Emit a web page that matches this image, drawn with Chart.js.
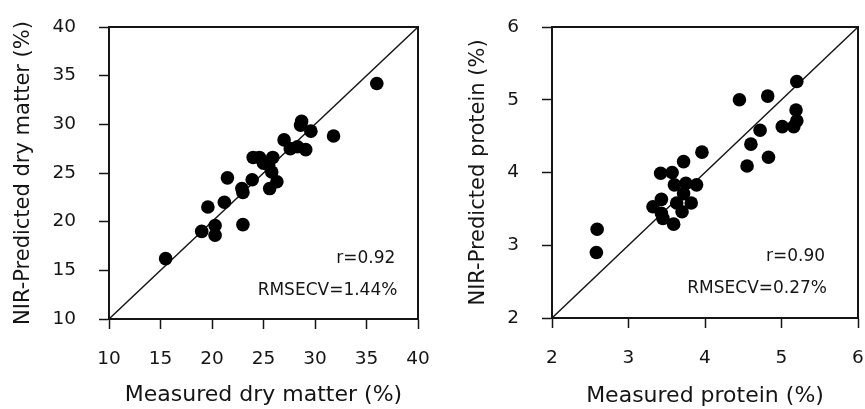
<!DOCTYPE html>
<html>
<head>
<meta charset="utf-8">
<script src="https://cdn.jsdelivr.net/npm/chart.js@4.4.1/dist/chart.umd.min.js"></script>
<style>
  body { margin: 0; background: #fff; }
  #wrap { position: relative; width: 865px; height: 409px; overflow: hidden; }
  canvas { position: absolute; top: 0; }
</style>
</head>
<body>
<div id="wrap">
  <canvas id="dmChart" width="430" height="409" style="left:0"></canvas>
  <canvas id="proteinChart" width="435" height="409" style="left:430px"></canvas>
</div>
<script>
// dry matter (%)
const dmMeasured  = [15.5, 19.0, 19.6, 20.3, 20.3, 21.2, 21.5, 22.9, 23.0, 23.0, 23.9, 24.0, 24.6, 25.0, 25.5, 25.9, 25.8, 25.6, 26.3, 27.0, 27.6, 28.3, 29.1, 28.7, 28.6, 29.6, 31.8, 36.0];
const dmPredicted = [16.2, 19.0, 21.5, 19.6, 18.6, 22.0, 24.5, 23.4, 23.0, 19.7, 24.3, 26.6, 26.6, 26.0, 25.8, 26.6, 25.1, 23.4, 24.1, 28.4, 27.5, 27.7, 27.4, 30.3, 29.9, 29.3, 28.8, 34.2];
const dmRange = [10, 40];
const dmStats = ["r=0.92", "RMSECV=1.44%"];

// protein (%)
const pMeasured  = [2.59, 2.58, 3.32, 3.43, 3.43, 3.45, 3.59, 3.42, 3.57, 3.60, 3.75, 3.72, 3.63, 3.70, 3.82, 3.89, 3.72, 3.96, 4.45, 4.82, 5.20, 5.19, 5.20, 5.16, 5.01, 4.72, 4.60, 4.55, 4.83];
const pPredicted = [3.22, 2.90, 3.53, 3.63, 3.44, 3.37, 3.29, 3.99, 4.00, 3.83, 3.85, 3.71, 3.58, 3.46, 3.58, 3.83, 4.15, 4.28, 5.00, 5.05, 5.25, 4.86, 4.71, 4.63, 4.63, 4.58, 4.39, 4.09, 4.21];
const pRange = [2, 6];
const pStats = ["r=0.90", "RMSECV=0.27%"];

const FONT = "'DejaVu Sans', sans-serif";
const INK = "#151515";

// box around plot + r / RMSECV text
const framePlugin = {
  id: "frame",
  afterDraw(chart) {
    const ctx = chart.ctx;
    const a = chart.chartArea;
    const o = chart.options.plugins.frame;
    ctx.save();
    ctx.strokeStyle = INK;
    ctx.lineWidth = 2;
    ctx.strokeRect(a.left, a.top, a.right - a.left, a.bottom - a.top);
    ctx.fillStyle = INK;
    ctx.font = "17px " + FONT;
    ctx.textAlign = "right";
    ctx.textBaseline = "middle";
    const xs = chart.scales.x, ys = chart.scales.y;
    o.text.forEach((t, i) => {
      ctx.fillText(t, xs.getPixelForValue(o.at[i][0]), ys.getPixelForValue(o.at[i][1]));
    });
    ctx.restore();
  }
};

// keep the plot area where the layout padding puts it
function noOverflow(s) {
  s.paddingLeft = 0;
  s.paddingRight = 0;
  s.paddingTop = 0;
  s.paddingBottom = 0;
}

function makeChart(id, measured, predicted, range, step, xTitle, yTitle, stats, statAt, layout) {
  const points = measured.map((v, i) => ({ x: v, y: predicted[i] }));
  const diag = range.map(v => ({ x: v, y: v }));

  const axis = (title, pad, titleSize, titlePad) => ({
    type: "linear",
    min: range[0],
    max: range[1],
    ticks: { stepSize: step, color: INK, font: { family: FONT, size: 18.5 }, padding: pad },
    grid: { display: true, drawOnChartArea: false, drawTicks: true, tickLength: 10, tickColor: INK, tickWidth: 1.5 },
    border: { display: true, color: INK, width: 2 },
    title: { display: true, text: title, color: INK, font: { family: FONT, size: titleSize }, padding: titlePad }
  });

  const xAxis = axis(xTitle, 19.5, 22, { top: 0, bottom: layout.xTitleBottom });
  xAxis.afterFit = s => { s.height = layout.xHeight; noOverflow(s); };
  const yAxis = axis(yTitle, 23, 21, { top: layout.yTitleTop, bottom: 0 });
  yAxis.afterFit = s => { s.width = layout.yWidth; noOverflow(s); };

  new Chart(document.getElementById(id), {
    type: "scatter",
    data: {
      datasets: [
        { data: diag, showLine: true, borderColor: INK, borderWidth: 1.4, pointRadius: 0, order: 2 },
        { data: points, backgroundColor: "#000", borderWidth: 0, pointRadius: 6.8, order: 1 }
      ]
    },
    options: {
      responsive: false,
      animation: false,
      layout: { padding: { top: 27, right: layout.right, left: 0, bottom: 0 } },
      scales: { x: xAxis, y: yAxis },
      plugins: {
        legend: { display: false },
        tooltip: { enabled: false },
        frame: { text: stats, at: statAt }
      }
    },
    plugins: [framePlugin]
  });
}

window.onload = function() {
  makeChart("dmChart", dmMeasured, dmPredicted, dmRange, 5,
    "Measured dry matter (%)", "NIR-Predicted dry matter (%)",
    dmStats, [[37.8, 16.2], [38.0, 12.9]],
    { right: 12, xHeight: 90, yWidth: 109, xTitleBottom: 1, yTitleTop: 11 });
  makeChart("proteinChart", pMeasured, pPredicted, pRange, 1,
    "Measured protein (%)", "NIR-Predicted protein (%)",
    pStats, [[5.57, 2.85], [5.595, 2.40]],
    { right: 7, xHeight: 91, yWidth: 122, xTitleBottom: 0, yTitleTop: 36 });
};
</script>
</body>
</html>
